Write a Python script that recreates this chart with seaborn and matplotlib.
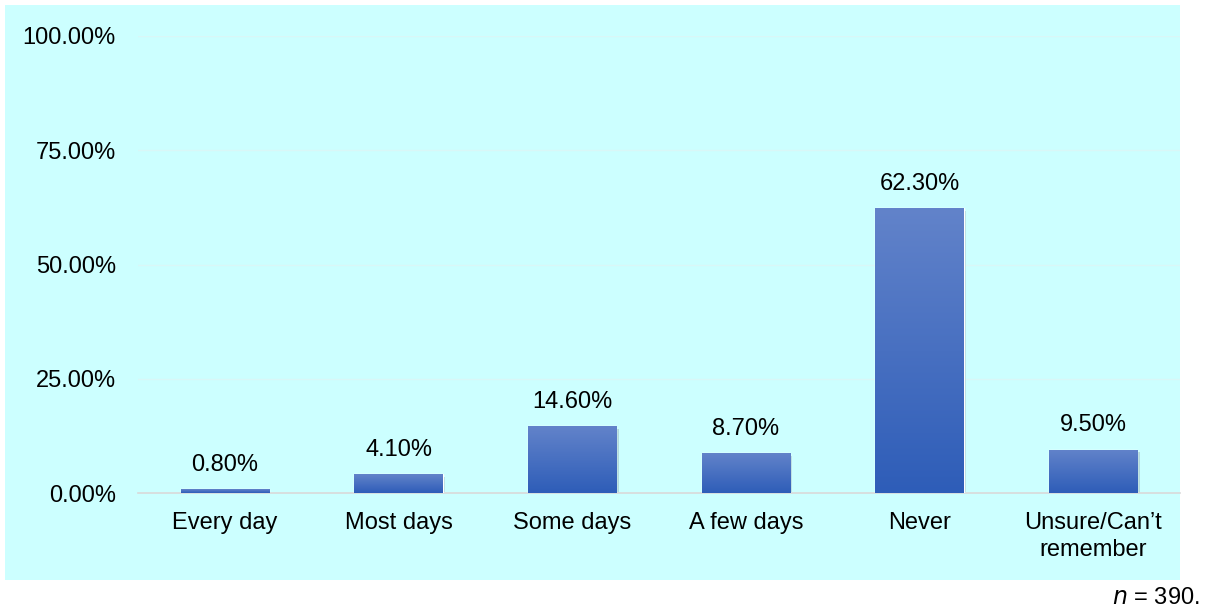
import matplotlib
matplotlib.use("Agg")
import matplotlib.pyplot as plt
import numpy as np
import pandas as pd
import seaborn as sns
from matplotlib.patches import Rectangle
from matplotlib.colors import LinearSegmentedColormap

categories = ["Every day", "Most days", "Some days", "A few days", "Never", "Unsure/Can\u2019t\nremember"]
percent = [0.80, 4.10, 14.60, 8.70, 62.30, 9.50]
y_ticks = [0, 25, 50, 75, 100]
sample_note = "390."

sns.set_theme(style="white")
plt.rcParams["font.family"] = ["Liberation Sans", "DejaVu Sans"]

FS = 17

df = pd.DataFrame({"category": categories, "percent": percent})

fig = plt.figure(figsize=(12.07, 6.13), dpi=100)
fig.patch.set_facecolor("white")
# cyan chart panel
fig.patches.append(Rectangle((5 / 1207, 1 - 580 / 613), 1175 / 1207, 575 / 613,
                             transform=fig.transFigure, facecolor="#CCFFFF",
                             edgecolor="none", zorder=-10))

ax = fig.add_axes([138 / 1207, 1 - 493 / 613, 1042 / 1207, 457 / 613])
ax.set_facecolor("none")

sns.barplot(data=df, x="category", y="percent", color="#3F67C0", width=0.51,
            ax=ax, zorder=3)

cmap = LinearSegmentedColormap.from_list("bar", ["#2E5DB8", "#6283CA"])
grad = np.linspace(0, 1, 256).reshape(-1, 1)
for patch in list(ax.patches):
    x0, y0 = patch.get_x(), patch.get_y()
    w, h = patch.get_width(), patch.get_height()
    # soft shadow behind bar
    ax.add_patch(Rectangle((x0 + 0.012, y0 - 0.5), w, h, facecolor="#8FAFB5",
                           edgecolor="none", alpha=0.45, zorder=2))
    im = ax.imshow(grad, cmap=cmap, aspect="auto", origin="lower",
                   extent=(x0, x0 + w, y0, y0 + h), zorder=3)
    im.set_clip_path(patch)
    patch.set_facecolor("none")

for i, v in enumerate(percent):
    ax.text(i, v + 3.0, f"{v:.2f}%", ha="center", va="bottom", fontsize=FS,
            color="black")

ax.set_xlim(-0.5, len(categories) - 0.5)
ax.set_ylim(0, 100)
ax.set_yticks(y_ticks)
ax.set_yticklabels([f"{t:.2f}%" for t in y_ticks], fontsize=FS, color="black")
ax.tick_params(axis="x", labelsize=FS, colors="black", length=0, pad=14)
ax.tick_params(axis="y", length=0, pad=16)
ax.set_xlabel("")
ax.set_ylabel("")
for t in ax.get_xticklabels():
    t.set_linespacing(1.25)

ax.yaxis.grid(True, color="#D9F7F7", linewidth=1, zorder=0)
ax.set_axisbelow(True)
for s in ["top", "right", "left"]:
    ax.spines[s].set_visible(False)
ax.spines["bottom"].set_color("#D9D9D9")
ax.spines["bottom"].set_linewidth(1.2)

fig.text(1200 / 1207, 1 - 598 / 613, r"$\it{n}$ = " + sample_note, ha="right",
         va="center", fontsize=FS, color="black")

fig.savefig("out.png", dpi=100)
